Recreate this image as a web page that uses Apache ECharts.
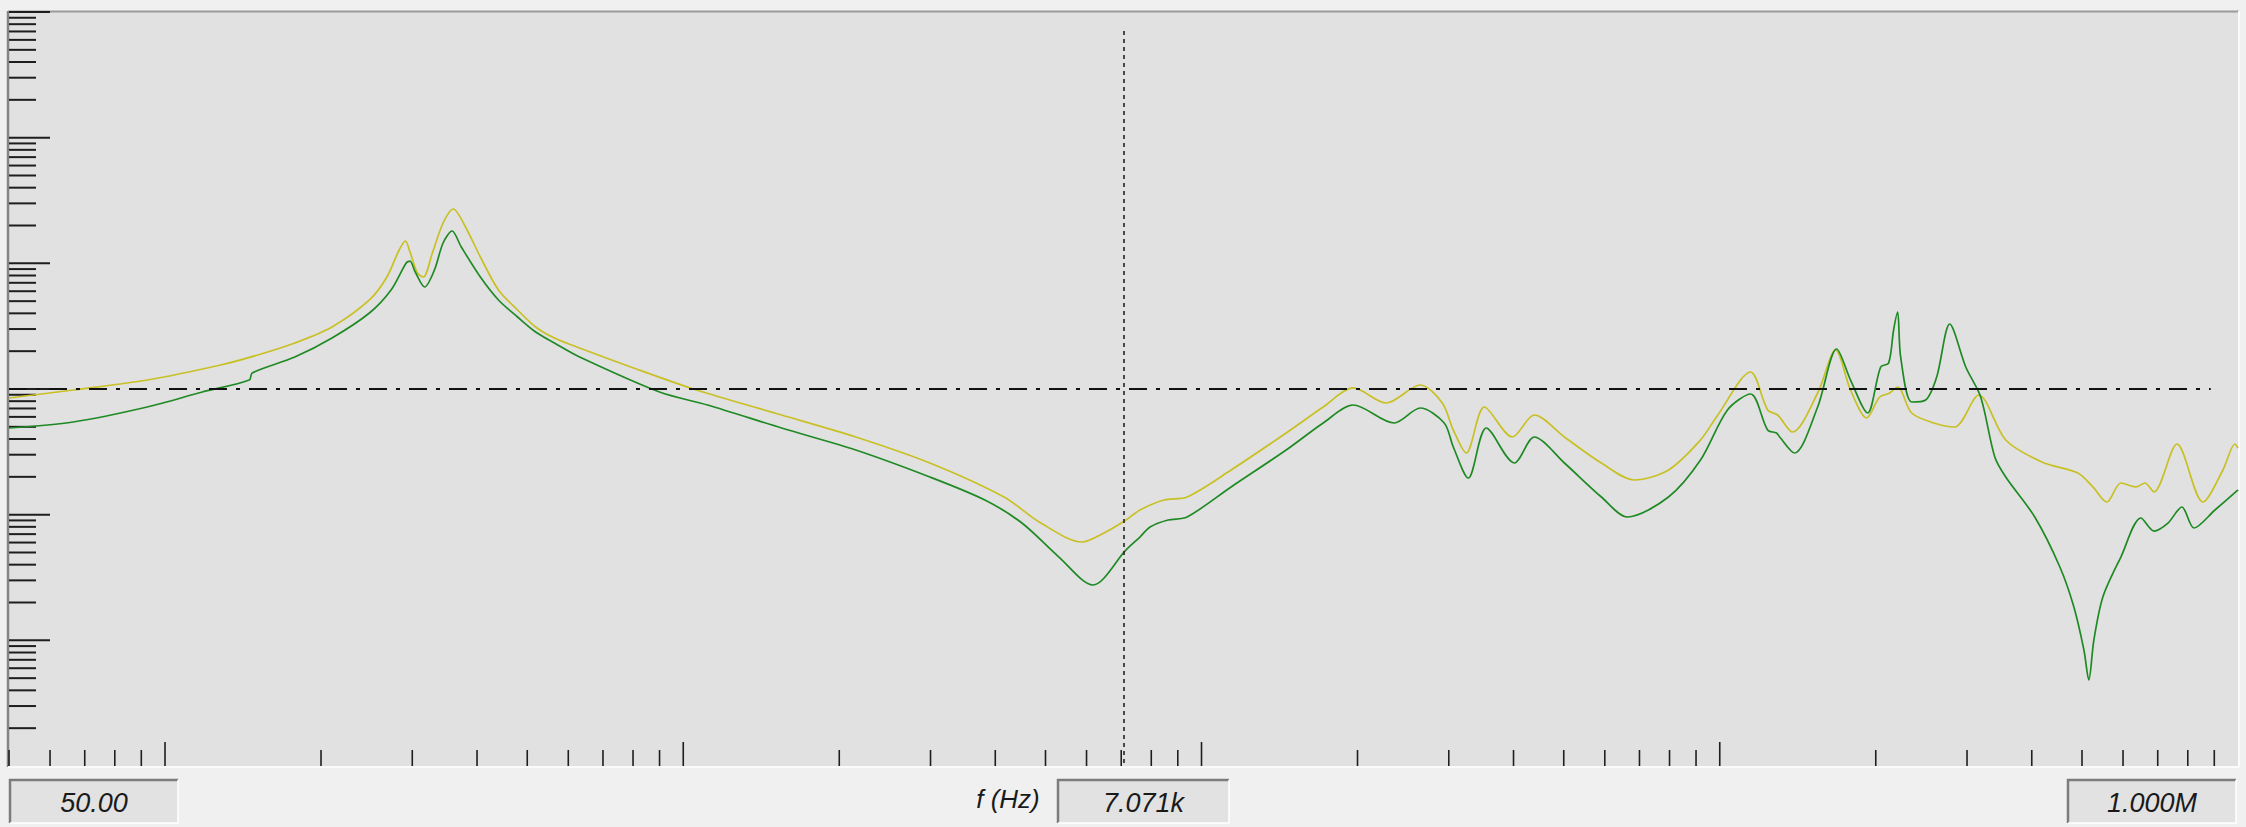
<!DOCTYPE html>
<html>
<head>
<meta charset="utf-8">
<script src="https://cdn.jsdelivr.net/npm/echarts@6/dist/echarts.min.js"></script>
<style>html,body{margin:0;padding:0;background:#f0f0f0;}#chart{width:2246px;height:827px;}</style>
</head>
<body>
<div id="chart"></div>
<script>
// ---- data ----
const freqYellow = [50, 66.5, 92.4, 128, 151, 178, 210, 248, 268, 283, 291, 297, 307, 315, 328, 344, 360, 380, 406, 440, 479, 519, 564, 631, 802, 1061, 1548, 2152, 2991, 4157, 4898, 5880, 6483, 7151, 7607, 8467, 9378, 11405, 14566, 17170, 19620, 22720, 26430, 29150, 30610, 32430, 35130, 39790, 43870, 50140, 59100, 68460, 79620, 91800, 98560, 114700, 123700, 129300, 138200, 154500, 167300, 178800, 192000, 203500, 212700, 220400, 234600, 258800, 284000, 316000, 356300, 418200, 490900, 524800, 558400, 594300, 635300, 661300, 688300, 762500, 855700, 935200, 986500, 1000000];
const magYellow = [0.848, 0.982, 1.179, 1.552, 1.865, 2.323, 3.114, 5.11, 7.785, 12.77, 15.06, 12.31, 8.375, 7.785, 12.08, 20.94, 27.06, 19.46, 11.23, 6.135, 4.253, 3.114, 2.546, 2.12, 1.469, 0.982, 0.621, 0.415, 0.2577, 0.1382, 0.0858, 0.0606, 0.0715, 0.0907, 0.1089, 0.1308, 0.1382, 0.2267, 0.4466, 0.719, 1.019, 0.774, 1.076, 0.774, 0.4717, 0.3095, 0.719, 0.415, 0.621, 0.415, 0.2577, 0.1888, 0.2267, 0.3928, 0.5985, 1.365, 0.681, 0.621, 0.4548, 0.929, 2.043, 0.982, 0.5877, 0.8636, 0.929, 1.037, 0.644, 0.5363, 0.4984, 0.896, 0.3928, 0.2625, 0.2146, 0.1661, 0.1261, 0.1786, 0.1661, 0.1786, 0.1515, 0.365, 0.1261, 0.2267, 0.365, 0.339];
const freqGreen = [50, 66.5, 92.4, 118, 145.4, 147.3, 178, 210, 248, 273, 292, 297, 304, 317, 331, 344, 358, 373, 406, 440, 479, 519, 564, 631, 900, 1114, 1548, 2152, 2991, 3819, 4503, 5307, 6173, 7151, 7607, 7956, 8617, 9378, 11405, 14566, 17170, 19620, 23540, 26430, 29400, 30610, 32720, 35440, 40150, 43870, 50140, 59100, 66350, 79620, 91800, 103500, 114700, 123700, 128700, 130500, 139400, 154500, 168100, 178800, 192900, 204400, 211800, 216500, 220400, 223400, 234600, 249600, 262200, 277800, 298300, 318800, 339400, 356300, 405400, 453200, 482300, 504300, 515400, 527100, 548600, 594300, 649600, 688300, 732500, 779400, 822200, 902600, 1000000];
const magGreen = [0.4894, 0.5463, 0.719, 0.946, 1.179, 1.341, 1.797, 2.546, 4.025, 6.135, 10.06, 10.43, 8.531, 6.479, 8.849, 14.52, 18.08, 13.49, 7.785, 5.11, 3.741, 2.842, 2.323, 1.797, 0.946, 0.746, 0.4894, 0.327, 0.1994, 0.1308, 0.0858, 0.046, 0.02757, 0.0524, 0.0664, 0.0798, 0.0907, 0.0958, 0.1661, 0.327, 0.5363, 0.746, 0.5363, 0.706, 0.5363, 0.3455, 0.1957, 0.4894, 0.2577, 0.415, 0.2577, 0.1382, 0.0958, 0.1382, 0.2723, 0.681, 0.9124, 0.4717, 0.4466, 0.415, 0.3095, 0.719, 2.081, 1.179, 0.644, 1.497, 1.61, 2.948, 4.1, 1.797, 0.788, 0.8177, 1.246, 3.29, 1.497, 0.8636, 0.2877, 0.1994, 0.0958, 0.03835, 0.01842, 0.00838, 0.00484, 0.01006, 0.02213, 0.046, 0.0941, 0.0741, 0.0858, 0.1151, 0.0783, 0.1089, 0.1572];

// axes ranges and ticks
const xRange = [50, 1000000];
const yRange = [0.001, 1000];
const xMajorTicks = [100, 1000, 10000, 100000];
const xMinorTicks = [50, 60, 70, 80, 90,
  200, 300, 400, 500, 600, 700, 800, 900,
  2000, 3000, 4000, 5000, 6000, 7000, 8000, 9000,
  20000, 30000, 40000, 50000, 60000, 70000, 80000, 90000,
  200000, 300000, 400000, 500000, 600000, 700000, 800000, 900000];
const yMajorTicks = [0.01, 0.1, 1, 10, 100, 1000];
const yMinorTicks = [0.002, 0.003, 0.004, 0.005, 0.006, 0.007, 0.008, 0.009,
  0.02, 0.03, 0.04, 0.05, 0.06, 0.07, 0.08, 0.09,
  0.2, 0.3, 0.4, 0.5, 0.6, 0.7, 0.8, 0.9,
  2, 3, 4, 5, 6, 7, 8, 9,
  20, 30, 40, 50, 60, 70, 80, 90,
  200, 300, 400, 500, 600, 700, 800, 900];
const referenceLevel = 1;
const referenceLineEnd = 886000;
const cursorFreq = 7071;
const cursorTop = 706;
const boxLabels = ['50.00', '7.071k', '1.000M'];
const axisTitle = 'f (Hz)';

// ---- chart ----
const chart = echarts.init(document.getElementById('chart'), null, {renderer: 'svg', width: 2246, height: 827});

const zip = (a, b) => a.map((v, i) => [v, b[i]]);
const TICK = '#1e1e1e';

function xTickRender(params, api) {
  const v = api.value(0);
  const major = api.value(2) === 1;
  const p = api.coord([v, yRange[0]]);
  const len = major ? 24 : 16;
  return {type: 'line', shape: {x1: p[0], y1: p[1], x2: p[0], y2: p[1] - len},
    style: {stroke: TICK, lineWidth: 1.6}};
}
function yTickRender(params, api) {
  const v = api.value(1);
  const major = api.value(2) === 1;
  const p = api.coord([xRange[0], v]);
  const len = major ? 41 : 27;
  return {type: 'line', shape: {x1: p[0], y1: p[1], x2: p[0] + len, y2: p[1]},
    style: {stroke: TICK, lineWidth: 2}};
}

const xTickData = xMajorTicks.map(v => [v, yRange[0], 1]).concat(xMinorTicks.map(v => [v, yRange[0], 0]));
const yTickData = yMajorTicks.map(v => [xRange[0], v, 1]).concat(yMinorTicks.map(v => [xRange[0], v, 0]));

const FONT = '"Liberation Sans", Arial, sans-serif';
function box(x, w, label) {
  const y = 780, h = 43;
  return [
    {type: 'rect', shape: {x: x, y: y, width: w, height: h}, style: {fill: '#e2e2e2'}, silent: true},
    {type: 'polyline', shape: {points: [[x, y + h], [x, y], [x + w, y]]}, style: {stroke: '#7c7c7c', lineWidth: 2.5, fill: null}, silent: true},
    {type: 'polyline', shape: {points: [[x + w, y], [x + w, y + h], [x, y + h]]}, style: {stroke: '#ffffff', lineWidth: 1.5, fill: null}, silent: true},
    {type: 'text', x: x + w / 2, y: y + h / 2 + 1, style: {text: label, fill: '#1a1a1a', font: 'italic 27px ' + FONT, textAlign: 'center', textVerticalAlign: 'middle'}, silent: true}
  ];
}

const option = {
  animation: false,
  backgroundColor: '#f0f0f0',
  grid: {left: 9, right: 8, top: 12, bottom: 61, show: true, backgroundColor: '#e1e1e1', borderWidth: 0},
  xAxis: {type: 'log', logBase: 10, min: xRange[0], max: xRange[1],
    axisLine: {show: false}, axisTick: {show: false}, axisLabel: {show: false}, splitLine: {show: false}},
  yAxis: {type: 'log', logBase: 10, min: yRange[0], max: yRange[1],
    axisLine: {show: false}, axisTick: {show: false}, axisLabel: {show: false}, splitLine: {show: false}},
  series: [
    {type: 'line', name: 'yellow', data: zip(freqYellow, magYellow), showSymbol: false, smooth: 0.3,
      lineStyle: {color: '#c8c024', width: 1.7}, silent: true,
      markLine: {silent: true, symbol: 'none', label: {show: false},
        data: [
          [{coord: [xRange[0], referenceLevel]}, {coord: [referenceLineEnd, referenceLevel]}]
        ],
        lineStyle: {color: '#111', width: 2, type: [18, 9, 4, 9]}}
    },
    {type: 'line', name: 'green', data: zip(freqGreen, magGreen), showSymbol: false, smooth: 0.3,
      lineStyle: {color: '#1f8a24', width: 1.7}, silent: true,
      markLine: {silent: true, symbol: 'none', label: {show: false},
        data: [
          [{coord: [cursorFreq, cursorTop]}, {coord: [cursorFreq, yRange[0]]}]
        ],
        lineStyle: {color: '#222', width: 1.6, type: [4, 4]}}
    },
    {type: 'custom', name: 'xticks', data: xTickData, renderItem: xTickRender, clip: false, silent: true, encode: {x: 0, y: 1}},
    {type: 'custom', name: 'yticks', data: yTickData, renderItem: yTickRender, clip: false, silent: true, encode: {x: 0, y: 1}}
  ],
  graphic: [
    {type: 'line', shape: {x1: 8, y1: 11.5, x2: 2239, y2: 11.5}, style: {stroke: '#9a9a9a', lineWidth: 2}, silent: true},
    {type: 'line', shape: {x1: 8, y1: 11, x2: 8, y2: 767}, style: {stroke: '#858585', lineWidth: 2.5}, silent: true},
    {type: 'line', shape: {x1: 2239, y1: 11, x2: 2239, y2: 767}, style: {stroke: '#fbfbfb', lineWidth: 2}, silent: true},
    {type: 'line', shape: {x1: 8, y1: 767, x2: 2239, y2: 767}, style: {stroke: '#fbfbfb', lineWidth: 2}, silent: true},
    ...box(10, 168, boxLabels[0]),
    ...box(1058, 171, boxLabels[1]),
    ...box(2068, 168, boxLabels[2]),
    {type: 'text', x: 1008, y: 799, style: {text: axisTitle, fill: '#1a1a1a', font: 'italic 26px ' + FONT, textAlign: 'center', textVerticalAlign: 'middle'}, silent: true}
  ]
};
chart.setOption(option);
</script>
</body>
</html>
